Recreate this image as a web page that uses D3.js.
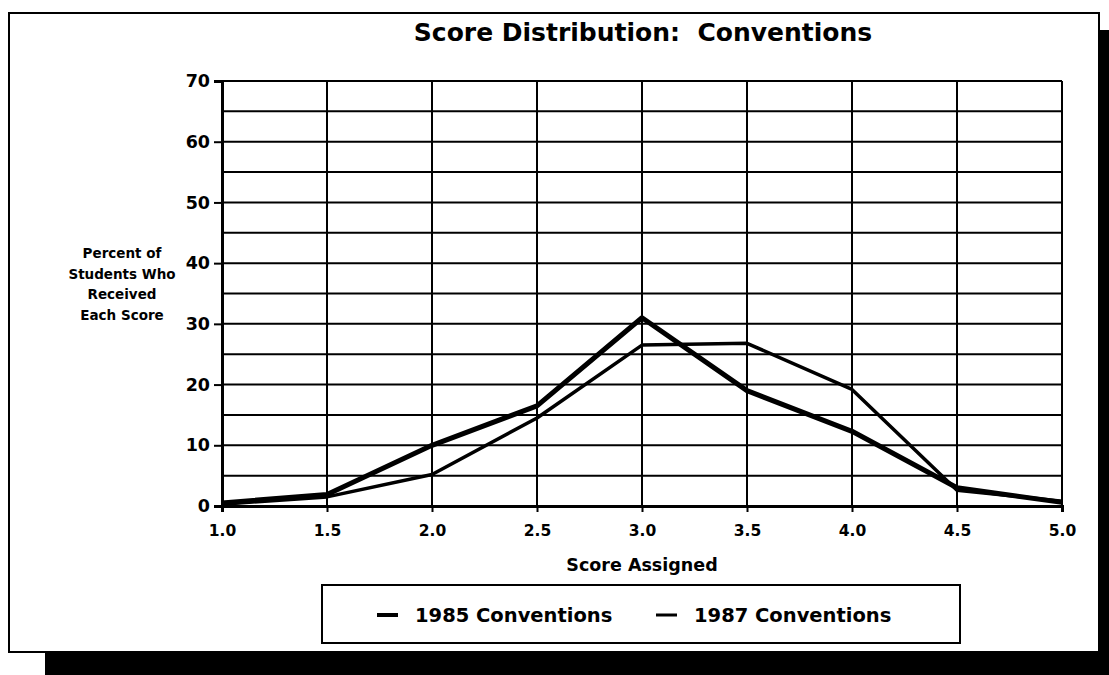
<!DOCTYPE html>
<html>
<head>
<meta charset="utf-8">
<title>Score Distribution: Conventions</title>
<style>
  body { margin: 0; background: #fff; }
  svg text { font-family: "DejaVu Sans", Arial, sans-serif; font-weight: bold; fill: #000; }
</style>
<script src="https://d3js.org/d3.v7.min.js"></script>
</head>
<body>
<svg width="1109" height="675"></svg>
<script>
// data
var scores = [1.0, 1.5, 2.0, 2.5, 3.0, 3.5, 4.0, 4.5, 5.0];
var conv1985 = [0.5, 1.9, 10, 16.5, 31, 19, 12.3, 3, 0.6];
var conv1987 = [0.3, 1.5, 5.2, 14.5, 26.5, 26.8, 19.2, 2.6, 0.8];
var seriesNames = ["1985 Conventions", "1987 Conventions"];
var yTicks = [0, 10, 20, 30, 40, 50, 60, 70];
var yGrid = d3.range(0, 75, 5);
var yTitle = ["Percent of", "Students Who", "Received", "Each Score"];

var svg = d3.select("svg"),
    margin = {top: 81, right: 47, bottom: 169, left: 222},
    width = +svg.attr("width") - margin.left - margin.right,
    height = +svg.attr("height") - margin.top - margin.bottom;

// page frame and drop shadow
svg.append("rect").attr("x", 1099).attr("y", 30).attr("width", 10).attr("height", 645).attr("fill", "#000");
svg.append("rect").attr("x", 45).attr("y", 653).attr("width", 1064).attr("height", 22).attr("fill", "#000");
svg.append("rect").attr("x", 9).attr("y", 13).attr("width", 1090).attr("height", 639)
   .attr("fill", "#fff").attr("stroke", "#000").attr("stroke-width", 2);

var g = svg.append("g").attr("transform", `translate(${margin.left},${margin.top})`);

var x = d3.scaleLinear().domain([1, 5]).range([0, width]);
var y = d3.scaleLinear().domain([0, 70]).range([height, 0]);

// grid
g.append("g").selectAll("line").data(yGrid).enter().append("line")
  .attr("x1", 0).attr("x2", width)
  .attr("y1", d => y(d)).attr("y2", d => y(d))
  .attr("stroke", "#000").attr("stroke-width", 2);
g.append("g").selectAll("line").data(scores).enter().append("line")
  .attr("x1", d => x(d)).attr("x2", d => x(d))
  .attr("y1", 0).attr("y2", height)
  .attr("stroke", "#000").attr("stroke-width", 2);

// axes
var yAxis = g.append("g")
  .call(d3.axisLeft(y).tickValues(yTicks).tickSize(8).tickPadding(4));
var xAxis = g.append("g")
  .attr("transform", `translate(0,${height})`)
  .call(d3.axisBottom(x).tickValues(scores).tickFormat(d3.format(".1f")).tickSize(6).tickPadding(13));
[yAxis, xAxis].forEach(function(a) {
  a.select(".domain").attr("stroke", "#000").attr("stroke-width", 3);
  a.selectAll(".tick line").attr("stroke", "#000").attr("stroke-width", 2);
  a.selectAll(".tick text").style("font-weight", "bold")
    .style("font-family", "'DejaVu Sans', Arial, sans-serif");
});
yAxis.selectAll(".tick text").style("font-size", "17.5px");
xAxis.selectAll(".tick text").style("font-size", "15.5px");

// lines
var line = d3.line().x((d, i) => x(scores[i])).y(d => y(d));
g.append("path").datum(conv1987)
  .attr("d", line).attr("fill", "none").attr("stroke", "#000")
  .attr("stroke-width", 3.5).attr("stroke-linejoin", "round");
g.append("path").datum(conv1985)
  .attr("d", line).attr("fill", "none").attr("stroke", "#000")
  .attr("stroke-width", 5).attr("stroke-linejoin", "round");

// titles
svg.append("text").attr("x", 643).attr("y", 41).attr("text-anchor", "middle")
  .style("font-size", "25px").text("Score Distribution:\u00a0\u00a0Conventions");
svg.append("text").attr("x", margin.left + width / 2).attr("y", 571).attr("text-anchor", "middle")
  .style("font-size", "17.5px").text("Score Assigned");
svg.append("g").selectAll("text").data(yTitle).enter().append("text")
  .attr("x", 122).attr("y", (d, i) => 258 + i * 20.5).attr("text-anchor", "middle")
  .style("font-size", "13.5px").text(d => d);

// legend
var legend = svg.append("g").attr("transform", "translate(322,585)");
legend.append("rect").attr("width", 638).attr("height", 58)
  .attr("fill", "#fff").attr("stroke", "#000").attr("stroke-width", 2);
var items = legend.selectAll(".item").data(seriesNames).enter().append("g")
  .attr("class", "item")
  .attr("transform", (d, i) => `translate(${[55, 334][i]},30)`);
items.append("line").attr("x1", 0).attr("x2", 21).attr("y1", 0).attr("y2", 0)
  .attr("stroke", "#000").attr("stroke-width", (d, i) => i === 0 ? 4 : 3);
items.append("text").attr("x", 38).attr("dy", "0.35em")
  .style("font-size", "19.5px").text(d => d);
</script>
</body>
</html>
